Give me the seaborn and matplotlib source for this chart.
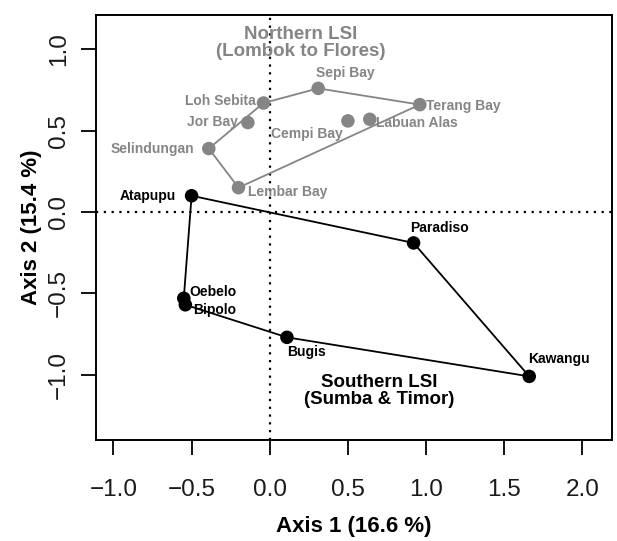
import pandas as pd
import matplotlib
matplotlib.use('Agg')
import matplotlib.pyplot as plt
import seaborn as sns

# site scores on the first two axes
north_sites = ['Sepi Bay', 'Loh Sebita', 'Jor Bay', 'Selindungan', 'Lembar Bay',
               'Terang Bay', 'Cempi Bay', 'Labuan Alas']
north_x = [0.31, -0.04, -0.14, -0.39, -0.20, 0.96, 0.50, 0.64]
north_y = [0.76, 0.67, 0.55, 0.39, 0.15, 0.66, 0.56, 0.57]

south_sites = ['Atapupu', 'Paradiso', 'Kawangu', 'Bugis', 'Oebelo', 'Bipolo']
south_x = [-0.50, 0.92, 1.66, 0.11, -0.55, -0.54]
south_y = [0.10, -0.19, -1.01, -0.77, -0.53, -0.57]

north_hull = ['Sepi Bay', 'Terang Bay', 'Lembar Bay', 'Selindungan', 'Loh Sebita', 'Sepi Bay']
south_hull = ['Atapupu', 'Paradiso', 'Kawangu', 'Bugis', 'Bipolo', 'Oebelo', 'Atapupu']

df = pd.DataFrame({
    'site': north_sites + south_sites,
    'x': north_x + south_x,
    'y': north_y + south_y,
    'group': ['Northern'] * len(north_sites) + ['Southern'] * len(south_sites),
})

sns.set_style('ticks')
plt.rcParams['font.family'] = ['Liberation Sans', 'DejaVu Sans']

grey = '#858585'
colours = {'Northern': grey, 'Southern': 'black'}

fig = plt.figure(figsize=(6.17, 5.41), dpi=100)
ax = fig.add_axes([0.156, 0.187, 0.836, 0.785])

ax.axvline(0, color='black', linestyle=(0, (1, 2.5)), lw=1.6, zorder=1)
ax.axhline(0, color='black', linestyle=(0, (1, 2.5)), lw=1.6, zorder=1)

idx = df.set_index('site')
for hull, grp in [(north_hull, 'Northern'), (south_hull, 'Southern')]:
    h = idx.loc[hull]
    ax.plot(h['x'], h['y'], color=colours[grp], lw=1.3, zorder=2)

sns.scatterplot(data=df, x='x', y='y', hue='group', palette=colours, s=95,
                edgecolor='none', legend=False, ax=ax, zorder=3)

# label placement: (dx, dy, ha) in pixels
offsets = {
    'Sepi Bay': (27, 15, 'center'),
    'Loh Sebita': (-8, 2, 'right'),
    'Jor Bay': (-10, 1, 'right'),
    'Selindungan': (-15, 0, 'right'),
    'Lembar Bay': (10, -4, 'left'),
    'Terang Bay': (6, -1, 'left'),
    'Cempi Bay': (-41, -13, 'center'),
    'Labuan Alas': (6, -4, 'left'),
    'Atapupu': (-16, 0, 'right'),
    'Paradiso': (26, 15, 'center'),
    'Kawangu': (30, 17, 'center'),
    'Bugis': (20, -15, 'center'),
    'Oebelo': (6, 6, 'left'),
    'Bipolo': (8, -5, 'left'),
}
for _, r in df.iterrows():
    dx, dy, ha = offsets[r['site']]
    ax.annotate(r['site'], (r['x'], r['y']), xytext=(dx, dy), textcoords='offset pixels',
                ha=ha, va='center', fontsize=10, fontweight='bold', color=colours[r['group']])

ax.text(0.20, 1.04, 'Northern LSI\n(Lombok to Flores)', ha='center', va='center',
        fontsize=13.5, fontweight='bold', color=grey, linespacing=1.0)
ax.text(0.70, -1.10, 'Southern LSI\n(Sumba & Timor)', ha='center', va='center',
        fontsize=13.5, fontweight='bold', color='black', linespacing=1.0)

ax.set_xlim(-1.11, 2.19)
ax.set_ylim(-1.40, 1.21)
ax.set_xticks([-1.0, -0.5, 0.0, 0.5, 1.0, 1.5, 2.0])
ax.set_yticks([-1.0, -0.5, 0.0, 0.5, 1.0])
ax.set_xticklabels(['\u22121.0', '\u22120.5', '0.0', '0.5', '1.0', '1.5', '2.0'])
ax.set_yticklabels(['\u22121.0', '\u22120.5', '0.0', '0.5', '1.0'], rotation=90, va='center')
ax.tick_params(axis='both', length=11, width=1.3, labelsize=17.5, color='black',
               labelcolor='#1a1a1a')
ax.tick_params(axis='x', pad=17)
ax.tick_params(axis='y', pad=8)
ax.set_xlabel('Axis 1 (16.6 %)', fontsize=16, fontweight='bold', labelpad=11, color='black')
ax.set_ylabel('Axis 2 (15.4 %)', fontsize=16, fontweight='bold', labelpad=4, color='black')
for sp in ax.spines.values():
    sp.set_visible(True)
    sp.set_linewidth(1.4)
    sp.set_color('black')

fig.savefig('out.png', dpi=100)
